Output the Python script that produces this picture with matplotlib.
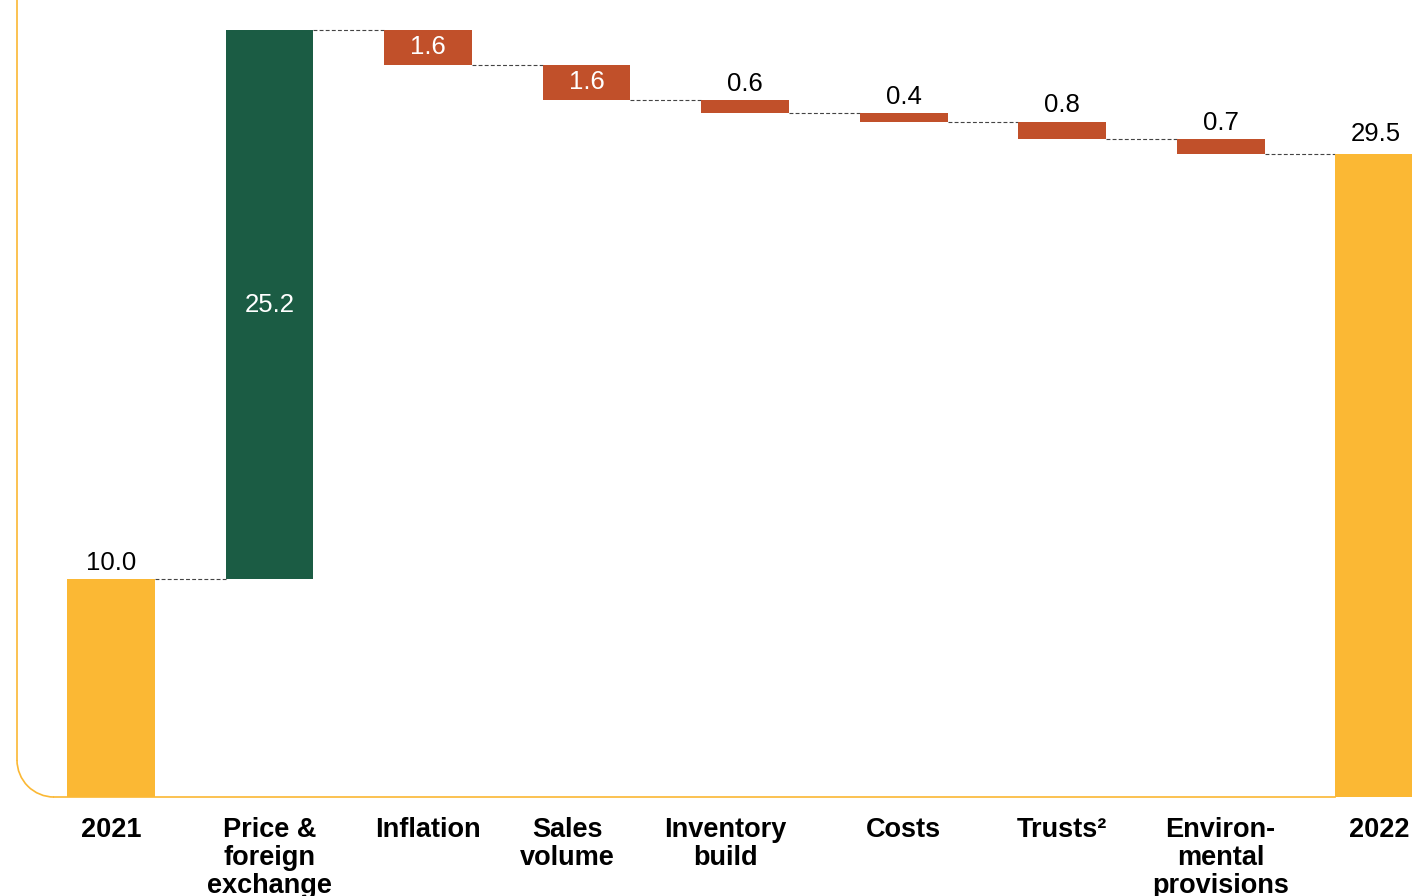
import matplotlib.pyplot as plt
from matplotlib.patches import Arc

plt.rcParams["font.family"] = ["Liberation Sans", "DejaVu Sans"]

categories = ["2021", "Price &\nforeign\nexchange", "Inflation", "Sales\nvolume",
              "Inventory\nbuild", "Costs", "Trusts\u00b2", "Environ-\nmental\nprovisions", "2022"]
start_value = 10.0
deltas = [25.2, -1.6, -1.6, -0.6, -0.4, -0.8, -0.7]
end_value = 29.5

YELLOW = "#FBB834"
GREEN = "#1B5C44"
RED = "#C1502A"
AXIS = "#FBB834"

# bar geometry in data units (one category per unit)
W = 0.555
fig = plt.figure(figsize=(14.12, 8.96), dpi=100)
ax = fig.add_axes([0, 0, 1, 1])
ax.set_xlim(-0.7003, 8.208)
ax.set_ylim(-4.543, 36.58)
ax.axis("off")

bottoms, heights, colors, levels = [], [], [], []
bottoms.append(0)
heights.append(start_value)
colors.append(YELLOW)
level = start_value
levels.append(level)
for d in deltas:
    new = level + d
    bottoms.append(min(level, new))
    heights.append(abs(d))
    colors.append(GREEN if d > 0 else RED)
    level = new
    levels.append(level)
bottoms.append(0)
heights.append(end_value)
colors.append(YELLOW)

xs = list(range(len(categories)))
ax.bar(xs, heights, bottom=bottoms, width=W, color=colors, zorder=2)

# dashed connectors between consecutive bars
for i, lv in enumerate(levels):
    ax.plot([i + W / 2, i + 1 - W / 2], [lv, lv], ls=(0, (3.5, 2)),
            color="#444444", lw=0.8, zorder=1)

# value labels
values = [start_value] + [abs(d) for d in deltas] + [end_value]
for i, (x, b, h, v) in enumerate(zip(xs, bottoms, heights, values)):
    if 0 < i < len(xs) - 1 and h >= 1.5:
        ax.text(x, b + h / 2, f"{v:.1f}", ha="center", va="center",
                color="white", fontsize=18.5)
    else:
        dy = 6 if i == len(xs) - 1 else 3
        ax.annotate(f"{v:.1f}", (x, b + h), xytext=(-2 if i == len(xs) - 1 else 0, dy),
                    textcoords="offset points", ha="center", va="bottom",
                    color="black", fontsize=18.5)

# category labels under the baseline; two of them sit a little to the left
nudge = {3: -14, 4: -14}
for i, (x, lab) in enumerate(zip(xs, categories)):
    ax.annotate(lab, (x, -0.9), xytext=(nudge.get(i, 0), 0), textcoords="offset points",
                ha="center", va="top", fontsize=19.5, fontweight="bold",
                linespacing=1.12)

# frame: left and bottom lines joined by a rounded corner
x0 = -0.593
rx, ry = 37 / 158.5, 37 / 21.79
ax.plot([x0, x0], [ry, 40], color=AXIS, lw=1.2, clip_on=False, zorder=3)
ax.plot([x0 + rx, 8 - W / 2], [0, 0], color=AXIS, lw=1.2, zorder=3)
ax.add_patch(Arc((x0 + rx, ry), 2 * rx, 2 * ry, theta1=180, theta2=270,
                 color=AXIS, lw=1.2, zorder=3))

fig.savefig("out.png", dpi=100)
